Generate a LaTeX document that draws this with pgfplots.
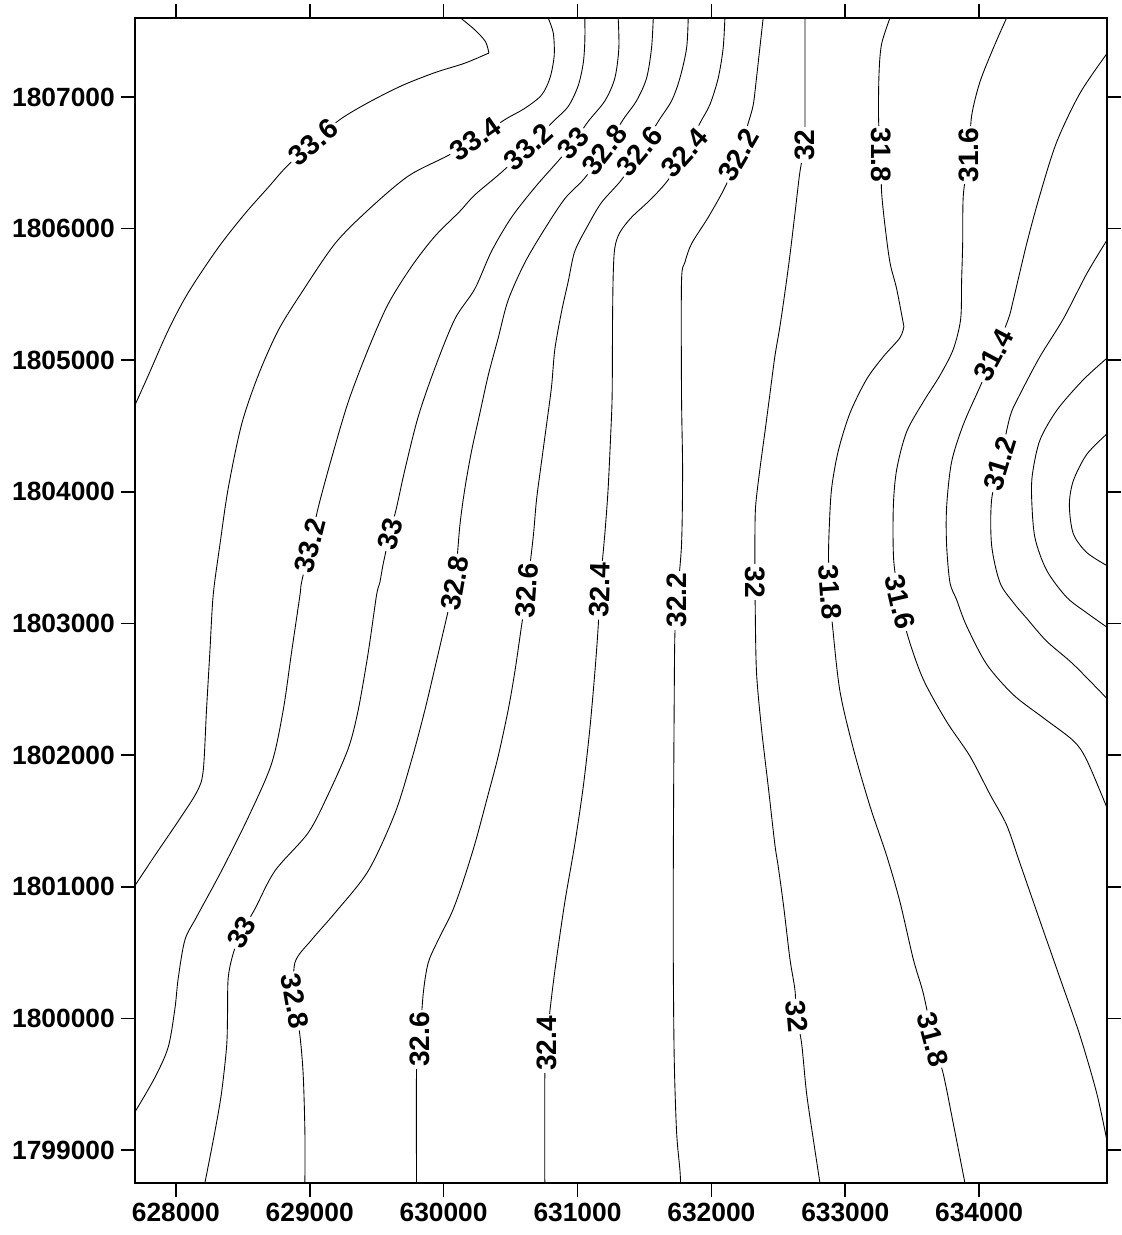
\documentclass[border=0pt]{standalone}
\usepackage{fontspec}
\setmainfont{Liberation Sans}
\usepackage{pgfplots}
\pgfplotsset{compat=1.18}

\pgfplotsset{
  cline/.style={black, line width=0.5pt, smooth, tension=0.5, mark=none},
}

\begin{document}
\begin{tikzpicture}[
  clabel/.style={fill=white, inner sep=1.2pt, font=\bfseries\fontsize{16}{19}\selectfont},
]
\begin{axis}[
  scale only axis,
  width=194.4mm, height=233mm,
  xmin=627695, xmax=634955,
  ymin=1798750, ymax=1807600,
  xtick={628000,629000,630000,631000,632000,633000,634000},
  ytick={1799000,1800000,1801000,1802000,1803000,1804000,1805000,1806000,1807000},
  tick align=outside,
  xtick pos=both, ytick pos=both,
  xticklabel pos=bottom, yticklabel pos=left,
  major tick length=2.8mm,
  scaled ticks=false,
  /pgf/number format/fixed,
  /pgf/number format/precision=0,
  /pgf/number format/1000 sep={},
  /pgf/number format/assume math mode=true,
  tick label style={font=\bfseries\fontsize{15}{18}\selectfont, black},
  axis line style={line width=0.9pt},
  tick style={black, line width=0.9pt},
]

% 33.6
\addplot[cline] coordinates {(627695,1804660) (627794,1804884) (627943,1805227) (628092,1805513) (628317,1805856) (628516,1806113) (628690,1806313) (628827,1806471) (629026,1806657) (629225,1806828) (629437,1806957) (629686,1807085) (629935,1807185) (630159,1807257) (630338,1807334)};
\addplot[cline] coordinates {(630338,1807334) (630313,1807420) (630234,1807509) (630127,1807600)};
% 33.4
\addplot[cline] coordinates {(630781,1807600) (630819,1807486) (630826,1807314) (630794,1807143) (630731,1807014) (630607,1806914) (630458,1806828) (630240,1806680) (630035,1806556) (629736,1806399) (629437,1806142) (629188,1805885) (628939,1805513) (628765,1805227) (628615,1804884) (628491,1804512) (628391,1804026) (628329,1803597) (628279,1803215) (628254,1802779) (628229,1802342) (628204,1801877) (628155,1801717) (628018,1801499) (627843,1801237) (627695,1801010)};
% 33.2
\addplot[cline] coordinates {(631055,1807600) (631055,1807428) (631043,1807257) (631005,1807085) (630931,1806928) (630819,1806814) (630634,1806622) (630433,1806428) (630233,1806256) (630120,1806130) (629935,1805942) (629761,1805713) (629586,1805427) (629437,1805084) (629288,1804684) (629163,1804255) (629064,1803883) (629001,1803590) (628939,1803312) (628927,1803215) (628864,1802779) (628802,1802342) (628715,1801935) (628541,1801528) (628341,1801121) (628155,1800771) (628068,1800597) (628018,1800306) (627993,1800073) (627943,1799782) (627843,1799550) (627695,1799290)};
% 33
\addplot[cline] coordinates {(631304,1807600) (631309,1807371) (631279,1807143) (631205,1806971) (631080,1806814) (630968,1806650) (630856,1806514) (630682,1806313) (630507,1806085) (630358,1805828) (630233,1805542) (630084,1805313) (629935,1804941) (629810,1804570) (629711,1804169) (629649,1803883) (629599,1803683) (629549,1803454) (629524,1803312) (629499,1803215) (629437,1802779) (629362,1802342) (629288,1802051) (629138,1801702) (628989,1801411) (628740,1801121) (628590,1800830) (628491,1800655) (628429,1800495) (628391,1800306) (628386,1800016) (628379,1799783) (628341,1799433) (628292,1799142) (628217,1798750)};
% 32.8
\addplot[cline] coordinates {(631566,1807600) (631553,1807371) (631516,1807143) (631441,1806971) (631341,1806828) (631201,1806597) (631055,1806385) (630906,1806228) (630756,1805999) (630607,1805742) (630482,1805456) (630408,1805170) (630333,1804884) (630271,1804598) (630209,1804312) (630159,1804026) (630121,1803740) (630084,1803306) (630035,1803099) (629948,1802720) (629860,1802342) (629761,1801964) (629636,1801557) (629437,1801121) (629188,1800801) (629014,1800597) (628889,1800422) (628889,1800131) (628927,1799870) (628951,1799579) (628964,1799142) (628964,1798750)};
% 32.6
\addplot[cline] coordinates {(631827,1807600) (631815,1807371) (631765,1807143) (631703,1806971) (631603,1806814) (631466,1806584) (631329,1806371) (631180,1806199) (631080,1806028) (630980,1805828) (630931,1805599) (630881,1805370) (630831,1805084) (630806,1804798) (630769,1804512) (630731,1804226) (630694,1803940) (630669,1803655) (630622,1803253) (630582,1802982) (630532,1802633) (630482,1802342) (630408,1801993) (630333,1801702) (630233,1801324) (630134,1801004) (630060,1800801) (629960,1800597) (629885,1800422) (629848,1800190) (629823,1799841) (629798,1799608) (629798,1798750)};
% 32.4
\addplot[cline] coordinates {(632101,1807600) (632088,1807371) (632051,1807143) (631989,1806942) (631914,1806800) (631802,1806574) (631678,1806371) (631553,1806228) (631403,1806085) (631316,1805970) (631279,1805856) (631267,1805656) (631262,1805313) (631259,1804741) (631249,1804455) (631229,1804026) (631209,1803740) (631197,1803597) (631167,1803253) (631155,1802982) (631130,1802633) (631092,1802197) (631043,1801760) (630980,1801324) (630906,1800888) (630843,1800451) (630806,1800161) (630769,1799811) (630756,1799550) (630756,1798750)};
% 32.2
\addplot[cline] coordinates {(632387,1807600) (632362,1807371) (632337,1807143) (632313,1806942) (632275,1806800) (632203,1806559) (632101,1806313) (631976,1806085) (631852,1805885) (631802,1805742) (631777,1805599) (631777,1804741) (631785,1804169) (631777,1803597) (631742,1803177) (631727,1802895) (631722,1802342) (631717,1801470) (631715,1800597) (631722,1799724) (631740,1799142) (631765,1798851) (631770,1798750)};
% 32
\addplot[cline] coordinates {(632699,1807600) (632699,1806857) (632696,1806635) (632661,1806428) (632624,1806113) (632587,1805799) (632549,1805513) (632512,1805256) (632474,1805027) (632437,1804741) (632400,1804455) (632362,1804169) (632330,1803883) (632325,1803597) (632325,1803314) (632327,1803157) (632337,1802633) (632375,1802197) (632425,1801760) (632474,1801324) (632500,1801150) (632540,1800850) (632587,1800451) (632624,1800219) (632637,1800015) (632674,1799811) (632711,1799433) (632761,1799084) (632811,1798750)};
% 31.8
\addplot[cline] coordinates {(633334,1807600) (633271,1807400) (633252,1807171) (633249,1806828) (633266,1806559) (633271,1806285) (633296,1806028) (633334,1805742) (633384,1805542) (633438,1805256)};
\addplot[cline] coordinates {(633438,1805256) (633408,1805170) (633284,1805027) (633159,1804855) (633035,1804598) (632948,1804312) (632898,1804026) (632881,1803740) (632875,1803500) (632885,1803238) (632905,1802982) (632960,1802488) (633060,1802051) (633184,1801615) (633309,1801237) (633408,1800888) (633508,1800451) (633583,1800190) (633657,1799841) (633732,1799579) (633807,1799201) (633894,1798750)};
% 31.6
\addplot[cline] coordinates {(634205,1807600) (634106,1807371) (634006,1807114) (633944,1806857) (633924,1806559) (633882,1806256) (633877,1805885) (633869,1805599) (633862,1805313) (633807,1805084) (633707,1804884) (633583,1804684) (633458,1804455) (633384,1804169) (633359,1803883) (633362,1803480) (633408,1803162) (633470,1802895) (633583,1802575) (633757,1802255) (633931,1801993) (634081,1801702) (634205,1801470) (634305,1801179) (634454,1800742) (634604,1800306) (634753,1799870) (634878,1799433) (634955,1799070)};
% 31.4
\addplot[cline] coordinates {(634955,1807330) (634753,1807028) (634579,1806657) (634454,1806256) (634355,1805885) (634255,1805456) (634218,1805313) (634110,1805040) (634006,1804798) (633882,1804512) (633794,1804226) (633757,1803883) (633757,1803597) (633782,1803312) (633832,1803180) (633906,1802982) (634056,1802691) (634255,1802459) (634479,1802284) (634703,1802110) (634803,1801964) (634955,1801600)};
% 31.2
\addplot[cline] coordinates {(634955,1805913) (634803,1805656) (634628,1805313) (634454,1805027) (634305,1804741) (634230,1804570) (634155,1804216) (634093,1803940) (634093,1803597) (634155,1803312) (634255,1803160) (634355,1803040) (634504,1802866) (634703,1802691) (634955,1802430)};
% 31
\addplot[cline] coordinates {(634955,1805016) (634775,1804849) (634581,1804621) (634454,1804393) (634399,1804142) (634392,1803960) (634416,1803656) (634504,1803405) (634653,1803200) (634808,1803078) (634955,1802972)};
% 30.8
\addplot[cline] coordinates {(634955,1804441) (634803,1804284) (634703,1804083) (634674,1803900) (634703,1803683) (634803,1803540) (634955,1803440)};

% contour labels
\node[clabel, rotate=40] at (axis cs:629026,1806657) {33.6};
\node[clabel, rotate=35] at (axis cs:630240,1806680) {33.4};
\node[clabel, rotate=42] at (axis cs:630634,1806622) {33.2};
\node[clabel, rotate=47] at (axis cs:630968,1806650) {33};
\node[clabel, rotate=52] at (axis cs:631201,1806597) {32.8};
\node[clabel, rotate=50] at (axis cs:631466,1806584) {32.6};
\node[clabel, rotate=48] at (axis cs:631802,1806574) {32.4};
\node[clabel, rotate=60] at (axis cs:632203,1806559) {32.2};
\node[clabel, rotate=90] at (axis cs:632696,1806635) {32};
\node[clabel, rotate=-90] at (axis cs:633266,1806559) {31.8};
\node[clabel, rotate=90] at (axis cs:633924,1806559) {31.6};
\node[clabel, rotate=62] at (axis cs:634110,1805040) {31.4};
\node[clabel, rotate=73] at (axis cs:634155,1804216) {31.2};

\node[clabel, rotate=76] at (axis cs:629001,1803590) {33.2};
\node[clabel, rotate=75] at (axis cs:629599,1803683) {33};
\node[clabel, rotate=80] at (axis cs:630084,1803306) {32.8};
\node[clabel, rotate=86] at (axis cs:630622,1803253) {32.6};
\node[clabel, rotate=88] at (axis cs:631167,1803253) {32.4};
\node[clabel, rotate=90] at (axis cs:631742,1803177) {32.2};
\node[clabel, rotate=-90] at (axis cs:632325,1803314) {32};
\node[clabel, rotate=-86] at (axis cs:632885,1803238) {31.8};
\node[clabel, rotate=-77] at (axis cs:633408,1803162) {31.6};

\node[clabel, rotate=60] at (axis cs:628491,1800655) {33};
\node[clabel, rotate=-80] at (axis cs:628889,1800131) {32.8};
\node[clabel, rotate=90] at (axis cs:629823,1799841) {32.6};
\node[clabel, rotate=90] at (axis cs:630769,1799811) {32.4};
\node[clabel, rotate=-85] at (axis cs:632637,1800015) {32};
\node[clabel, rotate=-75] at (axis cs:633657,1799841) {31.8};
\end{axis}
\path ([shift={(-27mm,-10.4mm)}]current axis.south west) rectangle ([shift={(2.4mm,3.6mm)}]current axis.north east);
\end{tikzpicture}
\end{document}
